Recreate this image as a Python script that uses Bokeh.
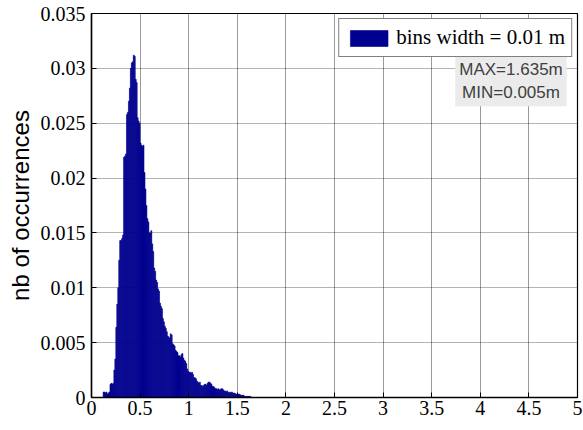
from bokeh.plotting import figure
from bokeh.models import FixedTicker, Label, Range1d, CustomJSTickFormatter
from bokeh.embed import file_html
from bokeh.resources import INLINE

# ---- data ----
bin_start = 0.10
bin_width = 0.01
occurrences = [
    0.0000, 0.0000, 0.0005, 0.0005, 0.0004, 0.0005, 0.0003, 0.0004, 0.0005, 0.0012,
    0.0013, 0.0012, 0.0013, 0.0025, 0.0035, 0.0064, 0.0085, 0.0100, 0.0125, 0.0143,
    0.0143, 0.0145, 0.0148, 0.0219, 0.0220, 0.0222, 0.0258, 0.0260, 0.0270, 0.0282,
    0.0300, 0.0305, 0.0306, 0.0312, 0.0311, 0.0290, 0.0287, 0.0255, 0.0252, 0.0250,
    0.0232, 0.0230, 0.0229, 0.0230, 0.0205, 0.0190, 0.0175, 0.0163, 0.0160, 0.0150,
    0.0150, 0.0152, 0.0140, 0.0133, 0.0118, 0.0115, 0.0107, 0.0105, 0.0099, 0.0097,
    0.0086, 0.0083, 0.0081, 0.0072, 0.0069, 0.0065, 0.0063, 0.0060, 0.0056, 0.0055,
    0.0054, 0.0058, 0.0057, 0.0049, 0.0048, 0.0047, 0.0043, 0.0042, 0.0041, 0.0038,
    0.0038, 0.0037, 0.0039, 0.0040, 0.0036, 0.0034, 0.0033, 0.0031, 0.0026, 0.0024,
    0.0023, 0.0023, 0.0022, 0.0023, 0.0021, 0.0018, 0.0018, 0.0017, 0.0015, 0.0014,
    0.0013, 0.0014, 0.0011, 0.0011, 0.0010, 0.0011, 0.0012, 0.0012, 0.0011, 0.0013,
    0.0014, 0.0014, 0.0013, 0.0012, 0.0010, 0.0010, 0.0009, 0.0008, 0.0008, 0.0007,
    0.0008, 0.0007, 0.0007, 0.0008, 0.0008, 0.0007, 0.0006, 0.0006, 0.0005, 0.0006,
    0.0005, 0.0004, 0.0005, 0.0004, 0.0005, 0.0004, 0.0004, 0.0004, 0.0003, 0.0003,
    0.0003, 0.0003, 0.0003, 0.0002, 0.0002, 0.0002, 0.0002, 0.0001, 0.0001, 0.0001,
    0.0001, 0.0001, 0.0001, 0.0001,
]
x_ticks = [0, 0.5, 1, 1.5, 2, 2.5, 3, 3.5, 4, 4.5, 5]
x_tick_labels = ["0", "0.5", "1", "1.5", "2", "2.5", "3", "3.5", "4", "4.5", "5"]
y_ticks = [0, 0.005, 0.01, 0.015, 0.02, 0.025, 0.03, 0.035]
y_tick_labels = ["0", "0.005", "0.01", "0.015", "0.02", "0.025", "0.03", "0.035"]
legend_text = "bins width = 0.01 m"
max_val = 1.635
min_val = 0.005
y_label = "nb of occurrences"

lefts = [bin_start + i * bin_width for i in range(len(occurrences))]
rights = [l + bin_width for l in lefts]

p = figure(width=583, height=430, output_backend="svg", toolbar_location=None,
           x_range=Range1d(0, 5), y_range=Range1d(0, 0.035),
           min_border_left=91, min_border_right=6, min_border_top=13, min_border_bottom=33)
p.background_fill_color = "white"
p.border_fill_color = "white"
p.outline_line_color = "black"
p.outline_line_width = 1.2

p.quad(left=lefts, right=rights, bottom=0, top=occurrences,
       fill_color="#00008F", line_color="#00008F", line_width=0.6,
       legend_label=legend_text)

lookup_code = """
let best = 0, d = Infinity;
for (let i = 0; i < tick_vals.length; i++) {
    const e = Math.abs(tick_vals[i] - tick);
    if (e < d) { d = e; best = i; }
}
return tick_texts[best];
"""

tick_font = "Liberation Serif"
p.xaxis.ticker = FixedTicker(ticks=x_ticks)
p.xaxis.formatter = CustomJSTickFormatter(
    args=dict(tick_vals=x_ticks, tick_texts=x_tick_labels), code=lookup_code)
p.yaxis.ticker = FixedTicker(ticks=y_ticks)
p.yaxis.formatter = CustomJSTickFormatter(
    args=dict(tick_vals=y_ticks, tick_texts=y_tick_labels), code=lookup_code)
for ax in (p.below[0], p.left[0]):
    ax.major_label_text_font = tick_font
    ax.major_label_text_font_size = "20px"
    ax.major_label_text_color = "black"
    ax.major_tick_in = 5
    ax.major_tick_out = 0
    ax.minor_tick_line_color = None
    ax.axis_line_color = "black"
    ax.axis_line_width = 1.5
    ax.major_tick_line_color = "black"

p.xaxis.major_label_standoff = 3
p.yaxis.major_label_standoff = 6
p.yaxis.axis_label = y_label
p.yaxis.axis_label_text_font = "Liberation Sans"
p.yaxis.axis_label_text_font_size = "24px"
p.yaxis.axis_label_text_font_style = "normal"
p.yaxis.axis_label_text_color = "black"
p.yaxis.axis_label_standoff = 4

p.xgrid.ticker = FixedTicker(ticks=x_ticks)
p.ygrid.ticker = FixedTicker(ticks=y_ticks)
p.xgrid.grid_line_color = "black"
p.xgrid.grid_line_alpha = 0.8
p.xgrid.grid_line_dash = "1 1"
p.ygrid.grid_line_color = "black"
p.ygrid.grid_line_alpha = 0.6
p.ygrid.grid_line_dash = "1 1"

stats = Label(x=4.316, y=0.02885, text=f"MAX={max_val}m\nMIN={min_val}m",
              text_align="center", text_baseline="middle",
              text_font="Liberation Sans", text_font_size="17px", text_color="#404040",
              background_fill_color="#EBEBEB", padding=4, text_line_height=1.25)
p.add_layout(stats)

lg = p.legend[0]
lg.location = "top_right"
lg.margin = 5
lg.padding = 6
lg.spacing = 0
lg.glyph_width = 47
lg.glyph_height = 20
lg.label_standoff = 4
lg.label_text_font = "Liberation Serif"
lg.label_text_font_size = "21px"
lg.label_text_color = "black"
lg.border_line_color = "black"
lg.border_line_width = 1.5
lg.background_fill_color = "white"
lg.background_fill_alpha = 1

open("out.html", "w").write(file_html(p, INLINE))
